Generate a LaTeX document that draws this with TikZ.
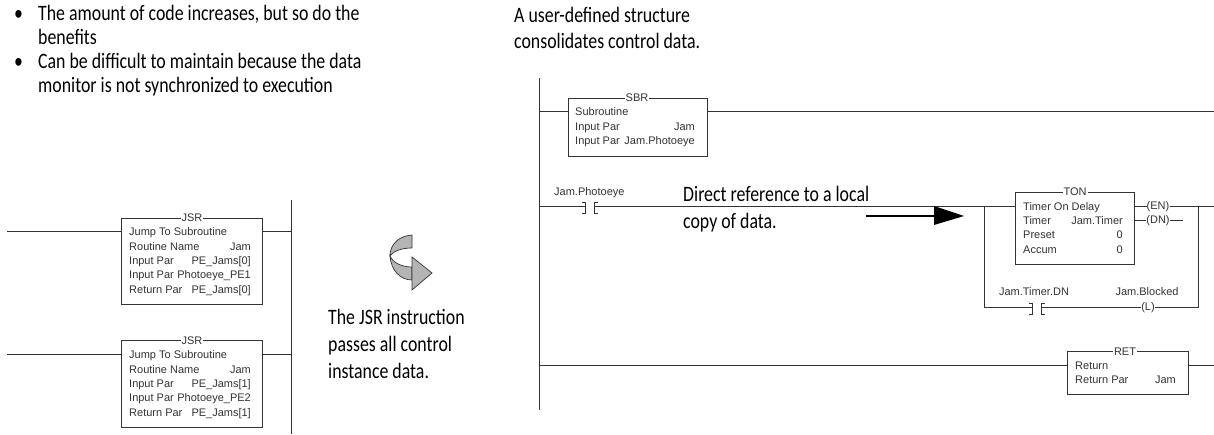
\documentclass[tikz,border=0pt]{standalone}
\usepackage{fontspec}
\setmainfont[FakeStretch=0.81]{Carlito}
\newfontfamily\ladderfont{Liberation Sans}
\definecolor{wirecol}{HTML}{333333}
\definecolor{folded}{HTML}{B4B4B4}
\tikzset{
	wire/.style={color=wirecol,line width=1pt},
	instr/.style={draw=wirecol,line width=1pt,fill=white,inner sep=0pt,anchor=north west},
	title/.style={fill=white,inner sep=1pt,text height=8pt,text depth=0pt,font=\ladderfont\fontsize{11}{12}\selectfont,text=wirecol},
	par/.style={inner sep=0pt,anchor=west,text height=9pt,text depth=1pt,font=\ladderfont\fontsize{11}{12}\selectfont,text=wirecol},
	val/.style={par,anchor=east},
	coil/.style={fill=white,inner sep=0pt,text height=8pt,text depth=2pt,font=\ladderfont\fontsize{11}{12}\selectfont,text=wirecol},
	note/.style={inner sep=0pt,anchor=west,text height=15pt,text depth=3pt,font=\fontsize{22}{24}\selectfont,text=black},
}
\newcommand{\contact}[3]{
	\coordinate (#1l) at (#2-7,#3);
	\coordinate (#1r) at (#2+9,#3);
	\draw[wire] (#2-7,#3-4) -- (#2-4,#3-4) -- (#2-4,#3+7) -- (#2-7,#3+7);
	\draw[wire] (#2+9,#3-4) -- (#2+5,#3-4) -- (#2+5,#3+7) -- (#2+9,#3+7);
	\draw[wire] (#1l) -- (#2-4,#3);
	\draw[wire] (#2+5,#3) -- (#1r);
}
\begin{document}
\begin{tikzpicture}[x=1pt,y=-1pt]
	\useasboundingbox (0,0) rectangle (1214,435);
	% left rungs
	\coordinate (railAt) at (291,200);
	\coordinate (railAb) at (291,434);
	\draw[wire] (railAt) -- (railAb);
	\coordinate (wireAa) at (7,232);
	\coordinate (wireAb) at (291,232);
	\coordinate (wireBa) at (7,354);
	\coordinate (wireBb) at (291,354);
	\node[instr,minimum width=141pt,minimum height=86pt] (jsrA) at (121,218) {};
	\node[instr,minimum width=141pt,minimum height=87pt] (jsrB) at (121,340) {};
	\draw[wire] (wireAa) -- (wireAa-|jsrA.west);
	\draw[wire] (wireAb-|jsrA.east) -- (wireAb);
	\draw[wire] (wireBa) -- (wireBa-|jsrB.west);
	\draw[wire] (wireBb-|jsrB.east) -- (wireBb);
	\node[title] (jsrAt) at (192,218) {JSR};
	\node[par] (jsrAa) at (129,232) {Jump To Subroutine};
	\node[par] (jsrAb) at (129,247) {Routine Name};
	\node[val] (jsrAc) at (251,247) {Jam};
	\node[par] (jsrAd) at (129,261) {Input Par};
	\node[val] (jsrAe) at (251,261) {PE\_Jams[0]};
	\node[par] (jsrAf) at (129,275) {Input Par};
	\node[val] (jsrAg) at (251,275) {Photoeye\_PE1};
	\node[par] (jsrAh) at (129,290) {Return Par};
	\node[val] (jsrAi) at (251,290) {PE\_Jams[0]};
	\node[title] (jsrBt) at (192,340) {JSR};
	\node[par] (jsrBa) at (129,354) {Jump To Subroutine};
	\node[par] (jsrBb) at (129,369) {Routine Name};
	\node[val] (jsrBc) at (251,369) {Jam};
	\node[par] (jsrBd) at (129,383) {Input Par};
	\node[val] (jsrBe) at (251,383) {PE\_Jams[1]};
	\node[par] (jsrBf) at (129,397) {Input Par};
	\node[val] (jsrBg) at (251,397) {Photoeye\_PE2};
	\node[par] (jsrBh) at (129,412) {Return Par};
	\node[val] (jsrBi) at (251,412) {PE\_Jams[1]};
	% curved arrow
	\fill[color=folded,draw=wirecol,line width=0.7pt] (412,235) .. controls (398,236) and (390,245) .. (390,256) .. controls (393,251) and (402,248) .. (412,248) -- cycle;
	\fill[color=folded,draw=wirecol,line width=0.7pt] (390,256) .. controls (391,270) and (400,280) .. (412,280) -- (412,267) .. controls (402,267) and (393,263) .. (390,256) -- cycle;
	\fill[color=folded,draw=wirecol,line width=0.7pt] (412,257) -- (432,273) -- (412,290) -- cycle;
	% right rungs
	\coordinate (railBt) at (539,78);
	\coordinate (railBb) at (539,410);
	\draw[wire] (railBt) -- (railBb);
	\coordinate (endA) at (1214,112);
	\coordinate (endB) at (1214,207);
	\coordinate (endC) at (1214,365);
	\coordinate (leftA) at (539,112);
	\coordinate (leftB) at (539,207);
	\coordinate (leftC) at (539,365);
	\coordinate (branchL) at (984,207);
	\coordinate (branchLb) at (984,307);
	\coordinate (branchR) at (1198,207);
	\coordinate (branchRb) at (1198,307);
	\node[instr,minimum width=139pt,minimum height=58pt] (sbr) at (568,98) {};
	\draw[wire] (leftA) -- (leftA-|sbr.west);
	\draw[wire] (endA-|sbr.east) -- (endA);
	\node[title] (sbrt) at (637,98) {SBR};
	\node[par] (sbra) at (575,112) {Subroutine};
	\node[par] (sbrb) at (575,127) {Input Par};
	\node[val] (sbrc) at (695,127) {Jam};
	\node[par] (sbrd) at (575,141) {Input Par};
	\node[val] (sbre) at (695,141) {Jam.Photoeye};
	\contact{pe}{589}{207}
	\node[par] (pelabel) at (554,192) {Jam.Photoeye};
	\node[instr,minimum width=119pt,minimum height=72pt] (ton) at (1015,192) {};
	\draw[wire] (leftB) -- (pel);
	\draw[wire] (per) -- (endB-|ton.west);
	\node[title] (tont) at (1075,192) {TON};
	\node[par] (tona) at (1023,207) {Timer On Delay};
	\node[par] (tonb) at (1023,221) {Timer};
	\node[val] (tonc) at (1123,221) {Jam.Timer};
	\node[par] (tond) at (1023,235) {Preset};
	\node[val] (tone) at (1123,235) {0};
	\node[par] (tonf) at (1023,250) {Accum};
	\node[val] (tong) at (1123,250) {0};
	\node[coil] (en) at (1158,207) {(EN)};
	\node[coil] (dn) at (1158,221) {(DN)};
	\coordinate (dnEnd) at (1183,221);
	\draw[wire] (endB-|ton.east) -- (en);
	\draw[wire] (en) -- (endB);
	\draw[wire] (dn-|ton.east) -- (dn);
	\draw[wire] (dn) -- (dnEnd);
	\contact{dnc}{1036}{307}
	\node[coil] (lat) at (1148,307) {(L)};
	\node[par,anchor=center] (dnlabel) at (1034,292) {Jam.Timer.DN};
	\node[par,anchor=center] (latlabel) at (1147,292) {Jam.Blocked};
	\draw[wire] (branchL) -- (branchLb) -- (dncl);
	\draw[wire] (dncr) -- (lat);
	\draw[wire] (lat) -- (branchRb) -- (branchR);
	\node[instr,minimum width=121pt,minimum height=43pt] (ret) at (1067,351) {};
	\draw[wire] (leftC) -- (leftC-|ret.west);
	\draw[wire] (endC-|ret.east) -- (endC);
	\node[title] (rett) at (1125,351) {RET};
	\node[par] (reta) at (1075,365) {Return};
	\node[par] (retb) at (1075,379) {Return Par};
	\node[val] (retc) at (1176,379) {Jam};
	% notes
	\node[note] (bulA) at (14,15) {•};
	\node[note] (noteAa) at (38,15) {The amount of code increases, but so do the};
	\node[note] (noteAb) at (38,39) {benefits};
	\node[note] (bulB) at (14,63) {•};
	\node[note] (noteAc) at (38,63) {Can be difficult to maintain because the data};
	\node[note] (noteAd) at (38,87) {monitor is not synchronized to execution};
	\node[note] (noteBa) at (514,17) {A user-defined structure};
	\node[note] (noteBb) at (514,43) {consolidates control data.};
	\node[note] (noteCa) at (328,318) {The JSR instruction};
	\node[note] (noteCb) at (328,345) {passes all control};
	\node[note] (noteCc) at (328,372) {instance data.};
	\node[note] (noteDa) at (683,196) {Direct reference to a local};
	\node[note] (noteDb) at (683,223) {copy of data.};
	\coordinate (arrA) at (866,216);
	\coordinate (arrB) at (936,216);
	\draw[color=black,line width=1.5pt] (arrA) -- (arrB);
	\fill[color=black] (934,206) -- (964,216) -- (934,225) -- cycle;
\end{tikzpicture}
\end{document}
